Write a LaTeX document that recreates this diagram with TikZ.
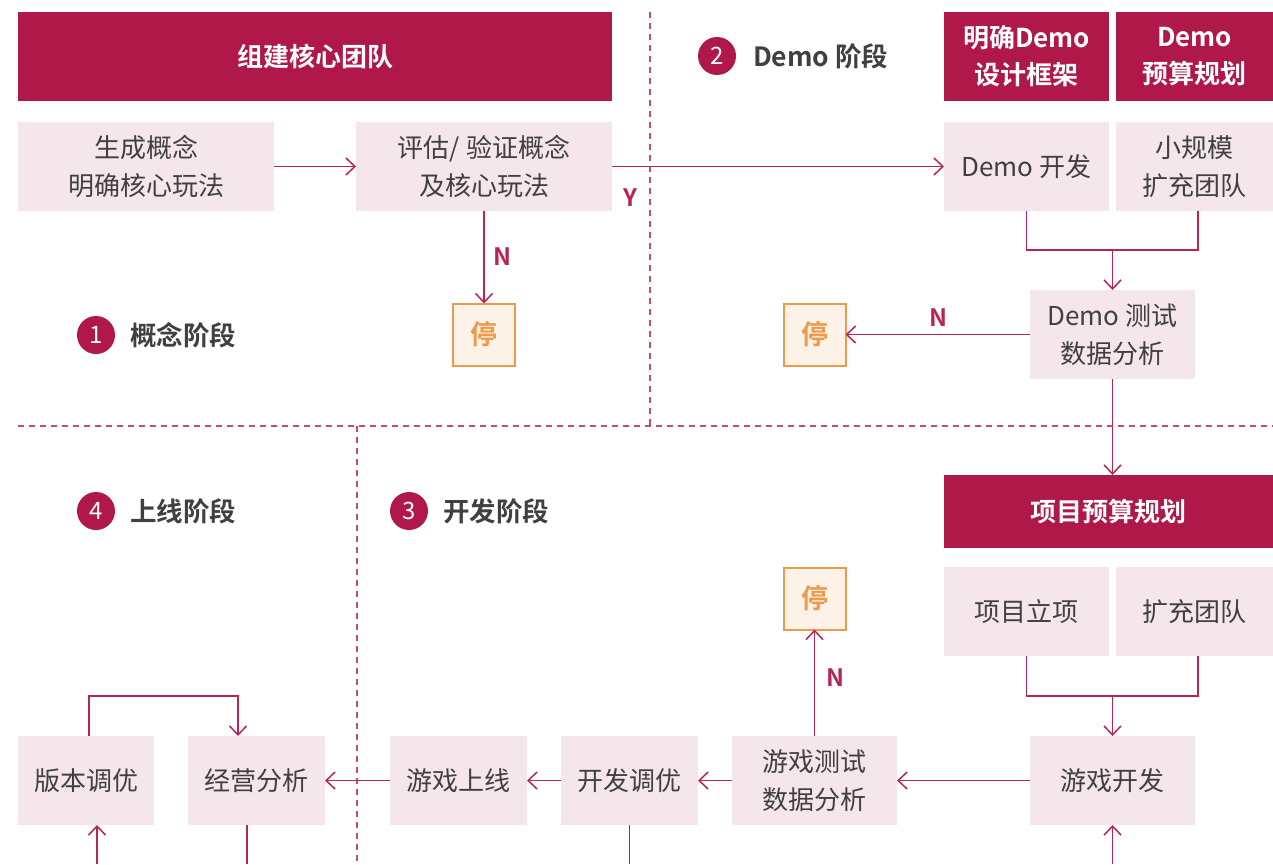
\documentclass[tikz,border=0pt]{standalone}
\usepackage{fontspec}
\setmainfont{Noto Sans CJK SC}[BoldFont={Noto Sans CJK SC Bold}]
\usetikzlibrary{arrows.meta}
\definecolor{crim}{HTML}{B0184A}
\definecolor{pinkbg}{HTML}{F5E6EC}
\definecolor{lc}{HTML}{B82458}
\definecolor{dashc}{HTML}{C24A76}
\definecolor{org}{HTML}{EE9A4C}
\definecolor{orgbg}{HTML}{FDF2E8}
\definecolor{txt}{HTML}{404040}
\begin{document}
\begin{tikzpicture}[x=1pt,y=-1pt,
  every node/.style={inner sep=0pt,outer sep=0pt},
  hdr/.style={fill=crim,text=white,font=\fontsize{26}{37}\selectfont\bfseries,align=center},
  pbox/.style={fill=pinkbg,text=txt,font=\fontsize{26}{38}\selectfont,align=center},
  stopbox/.style={draw=org,fill=orgbg,line width=2pt,text=org,font=\fontsize{27}{30}\selectfont\bfseries,minimum width=62pt,minimum height=62pt},
  numc/.style={circle,fill=crim,text=white,minimum size=38pt,font=\fontsize{24}{28}\selectfont},
  phase/.style={anchor=west,text=txt,font=\fontsize{26.5}{30}\selectfont\bfseries},
  yn/.style={text=lc,font=\fontsize{24}{28}\selectfont\bfseries},
  conn/.style={draw=lc,line width=1.5pt},
  arr/.style={conn,-{Straight Barb[length=9pt,width=17pt,line width=1.5pt]}},
  divider/.style={draw=dashc,line width=1.5pt,dash pattern=on 6pt off 5pt}]
\useasboundingbox (0,0) rectangle (1273,864);
% dividers
\draw[divider] (650,12) -- (650,425);
\draw[divider] (18,426) -- (1273,426);
\draw[divider] (357,426) -- (357,864);
% stage 1
\node[hdr,minimum width=594pt,minimum height=89pt] (h1) at (315,56.5) {组建核心团队};
\node[pbox,minimum width=256pt,minimum height=89pt] (b1) at (146,166.5) {生成概念\\明确核心玩法};
\node[pbox,minimum width=256pt,minimum height=89pt] (b2) at (484,166.5) {评估/ 验证概念\\及核心玩法};
\node[stopbox] (s1) at (484,334.5) {停};
\node[numc] (c1) at (96,335) {1};
\node[phase] (p1) at (130,335) {概念阶段};
% stage 2
\node[numc] (c2) at (717,56) {2};
\node[phase] (p2) at (753,56) {Demo 阶段};
\node[hdr,minimum width=165pt,minimum height=89pt] (h2) at (1026.5,56.5) {明确Demo\\设计框架};
\node[hdr,minimum width=157pt,minimum height=89pt] (h3) at (1194.5,56.5) {Demo\\预算规划};
\node[pbox,minimum width=165pt,minimum height=89pt] (b3) at (1026.5,166.5) {Demo 开发};
\node[pbox,minimum width=157pt,minimum height=89pt] (b4) at (1194.5,166.5) {小规模\\扩充团队};
\node[pbox,minimum width=165pt,minimum height=89pt] (b5) at (1112.5,334.5) {Demo 测试\\数据分析};
\node[stopbox] (s2) at (814.5,334.5) {停};
% stage 3
\node[hdr,minimum width=329pt,minimum height=73pt] (h4) at (1108.5,511.5) {项目预算规划};
\node[numc] (c3) at (409,511) {3};
\node[phase] (p3) at (443,511) {开发阶段};
\node[stopbox] (s3) at (814.5,598.5) {停};
\node[pbox,minimum width=165pt,minimum height=89pt] (b6) at (1026.5,611.5) {项目立项};
\node[pbox,minimum width=157pt,minimum height=89pt] (b7) at (1194.5,611.5) {扩充团队};
\node[pbox,minimum width=165pt,minimum height=89pt] (b8) at (1112.5,780.5) {游戏开发};
\node[pbox,minimum width=165pt,minimum height=89pt] (b9) at (814.5,780.5) {游戏测试\\数据分析};
\node[pbox,minimum width=137pt,minimum height=89pt] (b10) at (629.5,780.5) {开发调优};
\node[pbox,minimum width=137pt,minimum height=89pt] (b11) at (458.5,780.5) {游戏上线};
% stage 4
\node[numc] (c4) at (96,511) {4};
\node[phase] (p4) at (130,511) {上线阶段};
\node[pbox,minimum width=137pt,minimum height=89pt] (b12) at (256.5,780.5) {经营分析};
\node[pbox,minimum width=136pt,minimum height=89pt] (b13) at (86,780.5) {版本调优};
% coordinates
\coordinate (j1) at (1112.5,250);
\coordinate (j2) at (1112.5,696);
\coordinate (e1) at (1112.5,864);
\coordinate (e2) at (629.5,864);
\coordinate (e3) at (247,864);
\coordinate (e4) at (97,864);
% connectors
\draw[arr] (b1.east) -- (b2.west);
\draw[arr] (b2.east) -- (b3.west);
\node[yn] (ly) at (630,198) {Y};
\draw[arr] (b2.south) -- (s1.north);
\node[yn] (ln1) at (502,257) {N};
\draw[conn] (b3.south) |- (j1);
\draw[conn] ([xshift=3.5pt]b4.south) |- (j1);
\draw[arr] (j1) -- (b5.north);
\draw[arr] (b5.west) -- (s2.east);
\node[yn] (ln2) at (938,318) {N};
\draw[arr] (b5.south) -- (b5.south |- h4.north);
\draw[arr] (b9.north) -- (s3.south);
\node[yn] (ln3) at (835,678) {N};
\draw[conn] (b6.south) |- (j2);
\draw[conn] ([xshift=3.5pt]b7.south) |- (j2);
\draw[arr] (j2) -- (b8.north);
\draw[arr] (e1) -- (b8.south);
\draw[arr] (b8.west) -- (b9.east);
\draw[arr] (b9.west) -- (b10.east);
\draw[arr] (b10.west) -- (b11.east);
\draw[arr] (b11.west) -- (b12.east);
\draw[conn] (b10.south) -- (e2);
\draw[conn] (e3 |- b12.south) -- (e3);
\draw[arr] ([xshift=3pt]b13.north) -- ++(0,-40) -| ([xshift=-18.5pt]b12.north);
\draw[arr] (e4) -- (e4 |- b13.south);
\end{tikzpicture}
\end{document}
